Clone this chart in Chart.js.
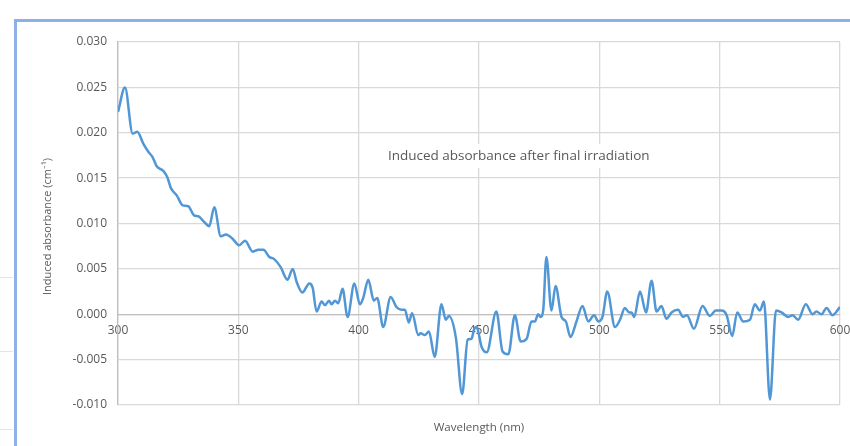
<!DOCTYPE html>
<html>
<head>
<meta charset="utf-8">
<script src="https://cdn.jsdelivr.net/npm/chart.js@4.4.1/dist/chart.umd.min.js"></script>
<style>
  html, body { margin: 0; padding: 0; background: #fff; }
  #wrap { position: relative; width: 850px; height: 446px; overflow: hidden; }
  .frame { position: absolute; left: 14px; top: 19px; width: 850px; height: 440px;
           border-left: 3px solid #8db0e6; border-top: 3px solid #8db0e6; }
  .rule { position: absolute; left: 0; width: 13px; height: 1px; background: #e4e4e4; }
  canvas { position: absolute; left: 0; top: 0; }
</style>
</head>
<body>
<div id="wrap">
  <div class="rule" style="top:277px"></div>
  <div class="rule" style="top:351px"></div>
  <div class="rule" style="top:429px"></div>
  <div class="frame"></div>
  <canvas id="chart" width="850" height="446"></canvas>
</div>
<script>
// Wavelength (nm) of each sample
const wavelength = [
  300.0, 302.9, 306.1, 308.0, 310.5, 312.6, 314.4, 316.1, 318.8, 320.5,
  322.0, 324.4, 326.9, 329.2, 331.6, 333.4, 335.7, 337.9, 340.0, 342.7,
  344.9, 347.7, 350.3, 352.8, 356.0, 358.3, 360.4, 362.9, 364.8, 367.6,
  370.4, 372.6, 374.3, 376.6, 379.5, 380.9, 382.5, 384.6, 386.0, 387.7,
  388.7, 390.2, 391.5, 393.3, 395.4, 398.2, 400.5, 401.9, 404.0, 406.3,
  407.7, 410.2, 413.3, 415.7, 417.8, 419.2, 420.8, 422.2, 424.8, 425.7,
  427.5, 429.2, 431.6, 434.4, 436.2, 437.5, 440.4, 443.0, 445.3, 446.9,
  447.9, 449.0, 451.1, 453.2, 457.2, 459.8, 462.2, 464.9, 467.3, 469.8,
  471.8, 473.2, 474.6, 475.6, 476.7, 478.0, 480.1, 481.8, 484.3, 486.1,
  488.0, 490.5, 493.0, 495.4, 497.8, 499.6, 501.3, 503.3, 506.5, 508.6,
  510.6, 512.4, 513.4, 514.5, 516.9, 519.4, 521.7, 523.8, 525.8, 527.9,
  530.0, 532.7, 534.8, 536.4, 539.3, 542.9, 545.9, 548.4, 550.8, 552.9,
  555.2, 557.3, 559.8, 562.6, 564.6, 566.7, 568.4, 570.9, 573.4, 575.7,
  578.5, 580.3, 582.6, 585.8, 588.6, 590.2, 592.3, 594.4, 596.9, 600.0
];

// Induced absorbance (cm^-1) at each wavelength
const absorbance = [
  0.0223, 0.0250, 0.0199, 0.0201, 0.0188, 0.0179, 0.0173, 0.0163, 0.0158, 0.0151,
  0.0139, 0.0131, 0.0120, 0.0119, 0.0109, 0.0108, 0.0102, 0.0097, 0.0118, 0.0086,
  0.0088, 0.0083, 0.0076, 0.0081, 0.0069, 0.0071, 0.0071, 0.0063, 0.0061, 0.0052,
  0.0038, 0.0050, 0.0035, 0.0024, 0.0034, 0.0029, 0.0003, 0.0014, 0.0010, 0.0015,
  0.0011, 0.0015, 0.0012, 0.0028, -0.0003, 0.0034, 0.0011, 0.0018, 0.0038, 0.0015,
  0.0018, -0.0014, 0.0019, 0.0008, 0.0005, 0.0005, -0.0009, 0.0001, -0.0023, -0.0021,
  -0.0023, -0.0019, -0.0047, 0.0011, -0.0006, -0.0002, -0.0026, -0.0088, -0.0028, -0.0027,
  -0.0017, -0.0014, -0.0036, -0.0042, 0.0003, -0.0041, -0.0044, -0.0001, -0.0030, -0.0027,
  -0.0008, -0.0008, 0.0000, -0.0003, 0.0005, 0.0063, 0.0004, 0.0031, -0.0003, -0.0008,
  -0.0025, -0.0008, 0.0009, -0.0008, -0.0001, -0.0008, -0.0003, 0.0025, -0.0014, -0.0006,
  0.0007, 0.0002, 0.0002, -0.0003, 0.0025, 0.0002, 0.0037, 0.0003, 0.0009, -0.0005,
  0.0002, 0.0005, -0.0003, -0.0001, -0.0016, 0.0009, -0.0002, 0.0004, 0.0004, -0.0001,
  -0.0024, 0.0002, -0.0008, -0.0006, 0.0011, 0.0004, 0.0014, -0.0094, 0.0004, 0.0002,
  -0.0003, -0.0001, -0.0006, 0.0011, 0.0000, 0.0003, 0.0000, 0.0007, -0.0001, 0.0008
];

// Axis ranges and tick spacing
const xRange = [300, 600];
const xStep = 50;
const yRange = [-0.010, 0.030];
const yStep = 0.005;

// Text labels
const xTitle = 'Wavelength (nm)';
const yTitle = 'Induced absorbance (cm\u207B\u00B9)';
const noteText = 'Induced absorbance after final irradiation';

const textGray = '#595959';
const gridGray = '#d9d9d9';
const axisGray = '#bfbfbf';

// Axis titles and the in-plot caption
const textPlugin = {
  id: 'chartText',
  beforeDatasetsDraw(chart) {
    const ctx = chart.ctx;
    const a = chart.chartArea;
    ctx.save();
    // caption on a white box over the grid
    ctx.font = '13.5px "Open Sans"';
    const tw = ctx.measureText(noteText).width;
    const cx = a.left + (a.right - a.left) * 0.555;
    const cy = a.top + (a.bottom - a.top) * 0.314;
    ctx.fillStyle = '#ffffff';
    ctx.fillRect(cx - tw / 2 - 5, cy - 12, tw + 10, 24);
    ctx.fillStyle = textGray;
    ctx.textAlign = 'center';
    ctx.textBaseline = 'middle';
    ctx.fillText(noteText, cx, cy);
    ctx.restore();
  },
  afterDraw(chart) {
    const ctx = chart.ctx;
    const a = chart.chartArea;
    ctx.save();
    ctx.fillStyle = textGray;
    ctx.textAlign = 'center';
    ctx.textBaseline = 'middle';
    ctx.font = '11.5px "Open Sans"';
    ctx.fillText(xTitle, (a.left + a.right) / 2, 428);
    ctx.translate(48, (a.top + a.bottom) / 2 + 3);
    ctx.rotate(-Math.PI / 2);
    ctx.font = '11px "Open Sans"';
    ctx.fillText(yTitle, 0, 0);
    ctx.restore();
  }
};

new Chart(document.getElementById('chart'), {
  type: 'line',
  data: {
    datasets: [{
      label: 'Induced absorbance',
      data: wavelength.map((w, i) => ({ x: w, y: absorbance[i] })),
      borderColor: '#5197d6',
      borderWidth: 2.5,
      pointRadius: 0,
      cubicInterpolationMode: 'monotone',
      fill: false
    }]
  },
  options: {
    responsive: false,
    animation: false,
    devicePixelRatio: 1,
    layout: { padding: { left: 0, top: 42, right: 10, bottom: 41 } },
    plugins: { legend: { display: false }, tooltip: { enabled: false } },
    scales: {
      x: {
        type: 'linear',
        position: { y: 0 },
        min: xRange[0],
        max: xRange[1],
        ticks: {
          stepSize: xStep,
          color: textGray,
          font: { family: 'Open Sans', size: 12 },
          padding: 9,
          maxRotation: 0
        },
        grid: { color: gridGray, lineWidth: 1.3, drawTicks: false },
        border: { color: axisGray, width: 1.3 },
        afterFit: s => { s.paddingLeft = 0; s.paddingRight = 0; }
      },
      y: {
        min: yRange[0],
        max: yRange[1],
        ticks: {
          stepSize: yStep,
          color: textGray,
          font: { family: 'Open Sans', size: 12 },
          padding: 11,
          callback: v => v.toFixed(3)
        },
        grid: { color: gridGray, lineWidth: 1.3, drawTicks: false },
        border: { color: axisGray, width: 1.3 },
        afterFit: s => { s.width = 118; }
      }
    }
  },
  plugins: [textPlugin]
});
</script>
</body>
</html>
